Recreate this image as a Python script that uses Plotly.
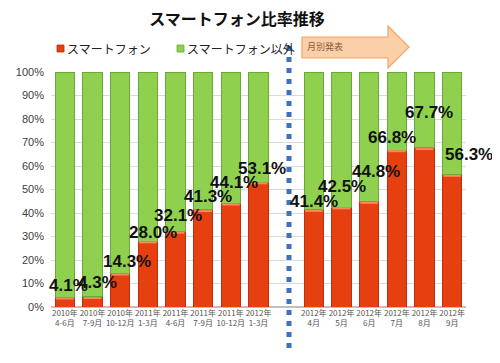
import plotly.graph_objects as go

title = "スマートフォン比率推移"
series_names = ["スマートフォン", "スマートフォン以外"]
years = ["2010年", "2010年", "2010年", "2011年", "2011年", "2011年", "2011年", "2012年",
         "2012年", "2012年", "2012年", "2012年", "2012年", "2012年"]
periods = ["4-6月", "7-9月", "10-12月", "1-3月", "4-6月", "7-9月", "10-12月", "1-3月",
           "4月", "5月", "6月", "7月", "8月", "9月"]
smartphone = [4.1, 4.3, 14.3, 28.0, 32.1, 41.3, 44.1, 53.1,
              41.4, 42.5, 44.8, 66.8, 67.7, 56.3]
other = [round(100 - v, 1) for v in smartphone]
arrow_text = "月別発表"
colors = ["#e63f10", "#8fd14f"]
edges = ["#b8300c", "#6aa83a"]

# slot positions: 8 quarterly bars, an empty slot, then 6 monthly bars
pos = list(range(8)) + list(range(9, 15))
ticktext = [f"{y}<br>{p}" for y, p in zip(years, periods)]

# label offsets (pixels) relative to top of each red bar
lab_dx = [4, 5, 7, 5, 2, 5, 3, 3, 0, 0, 7, -5, 4, 17]
lab_dy = [12, 14, 12, 9, 16, 13, 21, 14, 8, 21, 30, 13, 35, 20]

OFF = 8  # page body margin
W, H = 500 - OFF, 363 - OFF
L, R, T, B = 51 - OFF, 34, 72 - OFF, 56
PW, PH = W - L - R, H - T - B

def px(x):
    return (x - OFF - L) / PW

def py(y):
    return (H - B - (y - OFF)) / PH

fig = go.Figure()
fig.add_trace(go.Bar(x=pos, y=smartphone, name=series_names[0],
                     marker=dict(color=colors[0], line=dict(color=edges[0], width=1))))
fig.add_trace(go.Bar(x=pos, y=other, name=series_names[1],
                     marker=dict(color=colors[1], line=dict(color=edges[1], width=1))))

for x, v, dx, dy in zip(pos, smartphone, lab_dx, lab_dy):
    fig.add_annotation(x=x, y=v, text=f"<b>{v:.1f}%</b>", showarrow=False,
                       xshift=dx, yshift=dy,
                       font=dict(family="Liberation Sans, Arial", size=17, color="#111111"),
                       xref="x", yref="y")

# light highlight at top of red bars
for x, v in zip(pos, smartphone):
    fig.add_shape(type="line", x0=x - 0.32, x1=x + 0.32, y0=v - 0.5, y1=v - 0.5,
                  line=dict(color="#f7895e", width=2), xref="x", yref="y")

# manual legend
leg_x = [57, 177]
for i, name in enumerate(series_names):
    fig.add_shape(type="rect", xref="paper", yref="paper",
                  x0=px(leg_x[i]), x1=px(leg_x[i] + 7), y0=py(45), y1=py(52),
                  fillcolor=colors[i], line=dict(color=edges[i], width=0.8))
    fig.add_annotation(x=px(leg_x[i] + 8), y=py(48.5), text=name, showarrow=False,
                       xref="paper", yref="paper", xanchor="left", yanchor="middle",
                       font=dict(family="Noto Sans CJK JP", size=12, color="#222222"))

# arrow shape "月別発表"
pts = [(302, 37), (388, 37), (388, 26), (409, 47), (388, 68), (388, 58), (302, 58)]
path = "M " + " L ".join(f"{px(a):.4f},{py(b):.4f}" for a, b in pts) + " Z"
fig.add_shape(type="path", path=path, xref="paper", yref="paper",
              fillcolor="#fbcfa8", line=dict(color="#f2a467", width=1.2))
fig.add_annotation(x=px(305), y=py(46), text=arrow_text, showarrow=False,
                   xref="paper", yref="paper", xanchor="left", yanchor="middle",
                   font=dict(family="Noto Sans CJK JP", size=9, color="#8a5a3a"))

# blue dotted separator
fig.add_shape(type="line", x0=px(289), x1=px(289), y0=py(46), y1=py(352),
              xref="paper", yref="paper",
              line=dict(color="#3f6fc0", width=5, dash="5px,6px"))

fig.update_layout(
    width=W, height=H,
    margin=dict(l=L, r=R, t=T, b=B, autoexpand=False),
    barmode="stack", bargap=0.31,
    plot_bgcolor="white", paper_bgcolor="white",
    title=dict(text=f"<b>{title}</b>", x=(237 - OFF) / W, xanchor="center", xref="container",
               y=1 - (19.5 - OFF) / H, yanchor="middle", yref="container",
               font=dict(family="Noto Sans CJK JP", size=16, color="#111111")),
    showlegend=False,
    xaxis=dict(tickmode="array", tickvals=pos, ticktext=ticktext, range=[-0.5, 14.5],
               tickangle=0, automargin=False,
               tickfont=dict(family="Noto Sans CJK JP", size=8, color="#555555"),
               showgrid=False, zeroline=False, showline=False, ticks=""),
    yaxis=dict(range=[0, 100], tickvals=list(range(0, 101, 10)),
               ticktext=[f"{v}%" for v in range(0, 101, 10)], automargin=False,
               tickfont=dict(family="Liberation Sans, Arial", size=11, color="#404040"),
               gridcolor="#d9d9d9", gridwidth=1, zeroline=True, zerolinecolor="#bfbfbf",
               showline=False, ticks="", ticklabelstandoff=6),
)

fig.write_html("out.html")
